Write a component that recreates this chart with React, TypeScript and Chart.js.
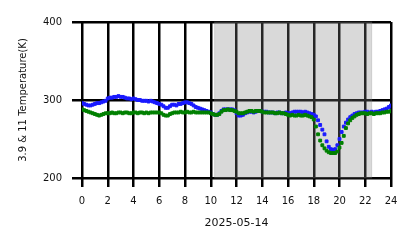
import React, { useEffect, useRef } from "react";
import { Chart, registerables } from "chart.js";

Chart.register(...registerables);

// sampling interval of the series (minutes), starting at 00:00
const SAMPLE_MINUTES = 10;

// 3.9 µm brightness temperature (K), every 10 min from 00:00 to 24:00
const blue39: number[] = [
  296, 295, 294, 293, 293, 294,
  295, 296, 296, 297, 298, 299,
  302, 303, 303, 304, 304, 305,
  304, 304, 303, 302, 302, 301,
  302, 301, 300, 300, 299, 299,
  299, 298, 299, 298, 297, 296,
  295, 294, 292, 290, 290, 292,
  294, 294, 293, 295, 295, 296,
  297, 297, 296, 295, 293, 291,
  290, 289, 288, 287, 286, 285,
  284, 282, 281, 281, 283, 286,
  288, 288, 288, 288, 288, 287,
  283, 280, 280, 281, 283, 284,
  285, 285, 284, 285, 286, 286,
  285, 285, 285, 284, 284, 284,
  283, 284, 284, 283, 283, 284,
  283, 283, 284, 285, 285, 285,
  285, 284, 285, 284, 283, 282,
  281, 279, 274, 268, 262, 256,
  247, 240, 237, 236, 237, 242,
  250, 259, 266, 271, 275, 278,
  280, 282, 283, 284, 284, 284,
  285, 285, 284, 285, 284, 285,
  285, 286, 287, 288, 289, 291,
  293,
];

// 11 µm brightness temperature (K), every 10 min from 00:00 to 24:00
const green11: number[] = [
  288, 287, 286, 285, 284, 283,
  282, 281, 280, 281, 282, 283,
  283, 283, 284, 283, 283, 284,
  284, 283, 284, 284, 283, 283,
  284, 284, 283, 284, 284, 283,
  284, 283, 284, 284, 284, 284,
  284, 283, 281, 280, 280, 282,
  283, 284, 284, 284, 285, 284,
  284, 285, 284, 284, 285, 284,
  284, 284, 284, 284, 284, 284,
  283, 282, 281, 281, 282, 285,
  287, 287, 288, 287, 287, 286,
  285, 283, 283, 283, 284, 285,
  286, 286, 285, 286, 286, 286,
  285, 284, 284, 284, 284, 284,
  283, 283, 284, 283, 283, 282,
  281, 280, 281, 280, 280, 281,
  280, 280, 281, 280, 279, 278,
  275, 266, 256, 248, 242, 238,
  235, 233, 232, 232, 232, 234,
  239, 245, 254, 264, 270, 274,
  277, 279, 281, 282, 283, 283,
  283, 282, 283, 283, 282, 283,
  283, 283, 284, 284, 285, 285,
  286,
];

const X_MIN = 0;
const X_MAX = 24;
const X_STEP = 2;
const Y_MIN = 200;
const Y_MAX = 400;
const Y_STEP = 100;

// night period shading (hours)
const shadeStart = 10.3;
const shadeEnd = 22.5;

const dateLabel = "2025-05-14";
const yTitle = "3.9 & 11 Temperature(K)";

const FONT = "'DejaVu Sans', sans-serif";

const toPoints = (vals: number[]) =>
  vals.map((v, i) => ({ x: (i * SAMPLE_MINUTES) / 60, y: v }));

const shadePlugin = {
  id: "nightShade",
  beforeDatasetsDraw(chart: any) {
    const { ctx, chartArea, scales } = chart;
    const x0 = scales.x.getPixelForValue(shadeStart);
    const x1 = scales.x.getPixelForValue(shadeEnd);
    ctx.save();
    ctx.fillStyle = "rgba(128,128,128,0.3)";
    ctx.fillRect(x0, chartArea.top, x1 - x0, chartArea.bottom - chartArea.top);
    ctx.strokeStyle = "rgba(128,128,128,0.25)";
    ctx.lineWidth = 1;
    ctx.strokeRect(x0, chartArea.top, x1 - x0, chartArea.bottom - chartArea.top);
    ctx.restore();
  },
};

export default function App() {
  const ref = useRef<HTMLCanvasElement | null>(null);

  useEffect(() => {
    document.body.style.margin = "0";
    const canvas = ref.current;
    if (!canvas) return;
    const chart = new Chart(canvas, {
      type: "scatter",
      data: {
        datasets: [
          {
            label: "11",
            data: toPoints(green11),
            backgroundColor: "#008000",
            borderColor: "#008000",
            pointStyle: "rect",
            pointRadius: 2,
            borderWidth: 1,
            order: 0,
          },
          {
            label: "3.9",
            data: toPoints(blue39),
            backgroundColor: "#1a1aff",
            borderColor: "#1a1aff",
            pointStyle: "rect",
            pointRadius: 2,
            borderWidth: 1,
            order: 1,
          },
        ],
      },
      options: {
        responsive: false,
        animation: false,
        layout: { padding: { left: 0, right: 27, top: 22, bottom: 0 } },
        plugins: {
          legend: { display: false },
          tooltip: { enabled: false },
        },
        scales: {
          x: {
            type: "linear",
            min: X_MIN,
            max: X_MAX,
            z: 1,
            ticks: {
              stepSize: X_STEP,
              autoSkip: false,
              maxRotation: 0,
              padding: 8,
              color: "#111",
              font: { family: FONT, size: 10 },
            },
            grid: { color: "#000", lineWidth: 2.5, tickLength: 9, drawTicks: true },
            border: { display: false },
            title: {
              display: true,
              text: dateLabel,
              color: "#111",
              font: { family: FONT, size: 11 },
              padding: { top: 0, bottom: 18 },
            },
            afterFit: (s: any) => {
              s.height = 70;
            },
          },
          y: {
            type: "linear",
            min: Y_MIN,
            max: Y_MAX,
            z: 1,
            ticks: {
              stepSize: Y_STEP,
              padding: 10,
              color: "#111",
              font: { family: FONT, size: 10 },
            },
            grid: { color: "#000", lineWidth: 2.5, tickLength: 10, drawTicks: true },
            border: { display: false },
            title: {
              display: true,
              text: yTitle,
              color: "#111",
              font: { family: FONT, size: 10 },
              padding: { top: 17, bottom: 0 },
            },
            afterFit: (s: any) => {
              s.width = 82;
            },
          },
        },
      },
      plugins: [shadePlugin],
    } as any);
    return () => chart.destroy();
  }, []);

  return (
    <canvas
      ref={ref}
      width={418}
      height={248}
      style={{ display: "block", width: 418, height: 248 }}
    />
  );
}
